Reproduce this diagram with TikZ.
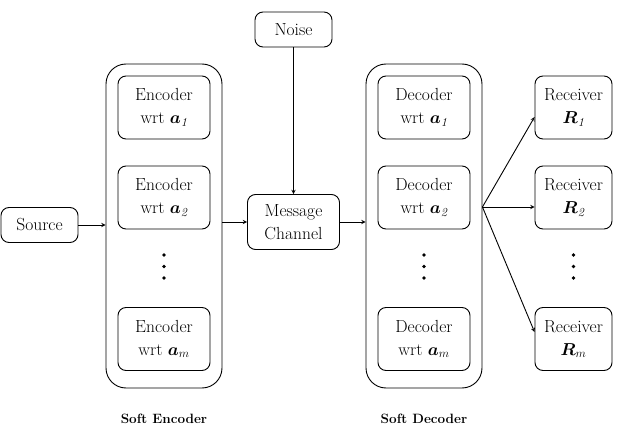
\documentclass[tikz,border=0pt]{standalone}
\usepackage{amsmath,amsfonts,amssymb}
\usepackage{fontspec}
\usepackage{tikz}

\begin{document}
\begin{tikzpicture}[x=1pt, y=-1pt, node distance=90pt, >=stealth,
  font=\fontsize{17.5}{23}\selectfont,
  box/.style={draw, line width=0.9pt, rounded corners=8pt, align=center, minimum width=92pt, minimum height=63pt, inner sep=2pt},
  small box/.style={box, minimum width=77pt, minimum height=35pt},
  outer/.style={draw, line width=0.9pt, rounded corners=20pt, minimum width=116pt, minimum height=324pt},
  title/.style={font=\fontsize{13.5}{16}\selectfont\bfseries},
  every path/.style={line width=0.9pt}]
\useasboundingbox (0,0) rectangle (633,428);
\node[small box] (source) at (39.5,225) {Source};
\node[outer] (softenc) at (164,226) {};
\node[box] (enc1) at (164,107.5) {Encoder\\wrt $\boldsymbol{a}_{\mathit{1}}$};
\node[box, below of=enc1] (enc2) {Encoder\\wrt $\boldsymbol{a}_{\mathit{2}}$};
\node[box] (encm) at (164,339) {Encoder\\wrt $\boldsymbol{a}_{m}$};
\node[small box, minimum width=92pt, minimum height=55pt] (channel) at (293.5,222) {Message\\Channel};
\node[small box] (noise) at (293.5,29.5) {Noise};
\node[outer] (softdec) at (424,226) {};
\node[box] (dec1) at (424,107.5) {Decoder\\wrt $\boldsymbol{a}_{\mathit{1}}$};
\node[box, below of=dec1] (dec2) {Decoder\\wrt $\boldsymbol{a}_{\mathit{2}}$};
\node[box] (decm) at (424,339) {Decoder\\wrt $\boldsymbol{a}_{m}$};
\node[box, minimum width=77pt] (rcv1) at (573.5,107.5) {Receiver\\$\boldsymbol{R}_{\mathit{1}}$};
\node[box, minimum width=77pt, below of=rcv1] (rcv2) {Receiver\\$\boldsymbol{R}_{\mathit{2}}$};
\node[box, minimum width=77pt] (rcvm) at (573.5,339) {Receiver\\$\boldsymbol{R}_{m}$};
\node[title] (enclabel) at (164,419) {Soft Encoder};
\node[title] (declabel) at (424,419) {Soft Decoder};
\foreach \x in {164,424,573.5}
  \foreach \y in {255,266.5,278}
    \fill (\x,\y) circle (1.8pt);
\coordinate (fan) at ([yshift=19pt] softdec.east);
\draw[->] (source) -- (source -| softenc.west);
\draw[->] (softenc.east |- channel) -- (channel);
\draw[->] (channel) -- (channel -| softdec.west);
\draw[->] (noise) -- (channel);
\draw[->] (fan) -- ([yshift=-9.5pt] rcv1.west);
\draw[->] (fan) -- (fan -| rcv2.west);
\draw[->] (fan) -- ([yshift=7pt] rcvm.west);
\end{tikzpicture}
\end{document}
